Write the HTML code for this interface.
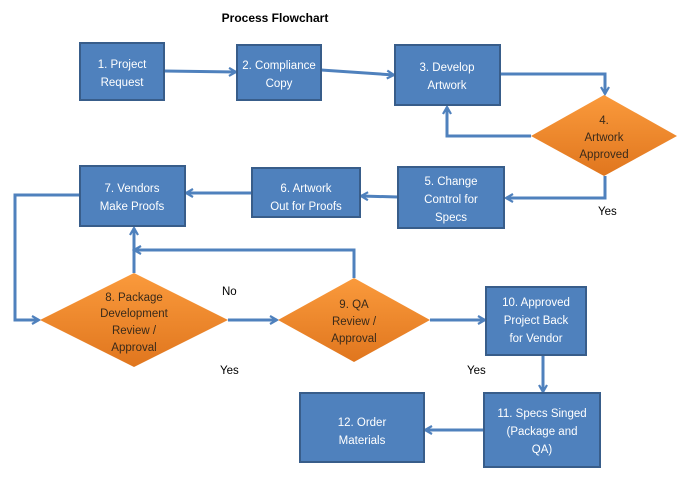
<!DOCTYPE html>
<html><head><style>body{margin:0;background:#fff}svg{display:block}text{font-family:"Liberation Sans",sans-serif;font-size:11.5px}</style></head>
<body>
<svg width="693" height="489" viewBox="0 0 693 489">
<defs>
<linearGradient id="og" x1="0" y1="0" x2="0" y2="1"><stop offset="0" stop-color="#FA9A3C"/><stop offset="1" stop-color="#E0761E"/></linearGradient>
<marker id="a" markerWidth="10" markerHeight="10" refX="8" refY="5" orient="auto" markerUnits="userSpaceOnUse"><path d="M1,1 L8,5 L1,9" fill="none" stroke="#4F81BD" stroke-width="2.2"/></marker>
</defs>
<text x="275" y="22" text-anchor="middle" font-weight="bold" style="font-size:12px">Process Flowchart</text>
<g fill="none" stroke="#4F81BD" stroke-width="3" marker-end="url(#a)">
<path d="M164,71 L236,72"/>
<path d="M321,70 L394,75"/>
<path d="M500,74 L605,74 L605,94"/>
<path d="M531,136 L447,136 L447,107"/>
<path d="M605,176 L605,198 L506,198"/>
<path d="M398,197 L361,196"/>
<path d="M252,193 L186,193"/>
<path d="M80,195 L15,195 L15,320 L39,320"/>
<path d="M134,273 L134,228"/>
<path d="M354,278 L354,250 L134,250"/>
<path d="M228,320 L277,320"/>
<path d="M430,320 L485,320"/>
<path d="M543,355 L543,392"/>
<path d="M484,430 L425,430"/>
</g>
<g fill="#4F81BD" stroke="#385D8A" stroke-width="2">
<rect x="80" y="43" width="84" height="57"/>
<rect x="237" y="45" width="84" height="55"/>
<rect x="395" y="45" width="105" height="60"/>
<rect x="398" y="167" width="106" height="61"/>
<rect x="252" y="168" width="108" height="49"/>
<rect x="80" y="166" width="105" height="60"/>
<rect x="486" y="287" width="100" height="68"/>
<rect x="484" y="393" width="116" height="74"/>
<rect x="300" y="393" width="124" height="69"/>
</g>
<g fill="url(#og)">
<polygon points="531,136 604,95 677,136 604,176"/>
<polygon points="40,320 134,273 228,320 134,367"/>
<polygon points="278,320 354,278 430,320 354,362"/>
</g>
<g fill="#fff" text-anchor="middle" style="font-size:13px">
<text x="122" y="68">1. Project</text><text x="122" y="86">Request</text>
<text x="279" y="69">2. Compliance</text><text x="279" y="87">Copy</text>
<text x="447" y="71">3. Develop</text><text x="447" y="89">Artwork</text>
<text x="451" y="185">5. Change</text><text x="451" y="203">Control for</text><text x="451" y="221">Specs</text>
<text x="306" y="192">6. Artwork</text><text x="306" y="210">Out for Proofs</text>
<text x="132" y="192">7. Vendors</text><text x="132" y="210">Make Proofs</text>
<text x="536" y="306">10. Approved</text><text x="536" y="324">Project Back</text><text x="536" y="342">for Vendor</text>
<text x="542" y="417">11. Specs Singed</text><text x="542" y="435">(Package and</text><text x="542" y="453">QA)</text>
<text x="362" y="426">12. Order</text><text x="362" y="444">Materials</text>
</g>
<g fill="#3a2a1a" text-anchor="middle" style="font-size:12px">
<text x="604" y="124">4.</text><text x="604" y="141">Artwork</text><text x="604" y="158">Approved</text>
<text x="134" y="301">8. Package</text><text x="134" y="317">Development</text><text x="134" y="334">Review /</text><text x="134" y="351">Approval</text>
<text x="354" y="308">9. QA</text><text x="354" y="325">Review /</text><text x="354" y="342">Approval</text>
</g>
<g fill="#000" style="font-size:12.5px">
<text x="598" y="215">Yes</text>
<text x="222" y="295">No</text>
<text x="220" y="374">Yes</text>
<text x="467" y="374">Yes</text>
</g>
</svg>
</body></html>
